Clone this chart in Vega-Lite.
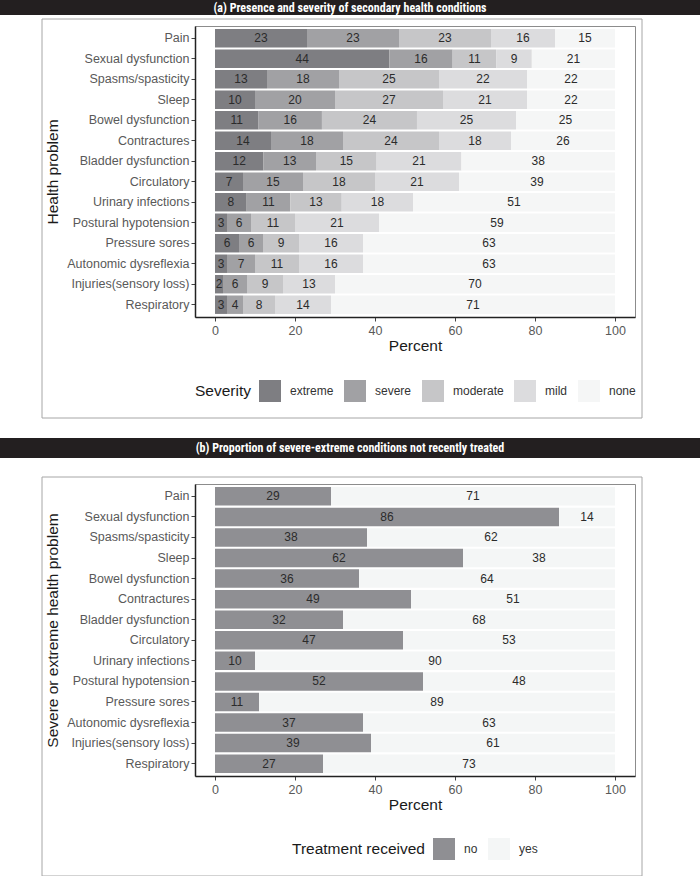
{
  "$schema": "https://vega.github.io/schema/vega-lite/v6.json",
  "padding": 0,
  "background": "white",
  "resolve": {"scale": {"color": "independent", "fill": "independent"}, "legend": {"color": "independent", "fill": "independent"}},
  "config": {
    "font": "Liberation Sans",
    "view": {"stroke": "#8c8c8c", "strokeWidth": 1},
    "axis": {
      "grid": false,
      "labelFont": "Liberation Sans",
      "labelFontSize": 12.5,
      "labelColor": "#595959",
      "titleFont": "Liberation Sans",
      "titleFontSize": 15.5,
      "titleFontWeight": "normal",
      "titleColor": "#1a1a1a",
      "tickColor": "#444",
      "tickSize": 4,
      "domainColor": "#222",
      "domainWidth": 1.5
    },
    "legend": {
      "orient": "none",
      "direction": "horizontal",
      "titleOrient": "left",
      "titleAnchor": "middle",
      "titleBaseline": "middle",
      "symbolType": "square",
      "symbolSize": 484,
      "symbolStrokeWidth": 0,
      "symbolOpacity": 1,
      "labelFont": "Liberation Sans",
      "labelFontSize": 12,
      "labelColor": "#333",
      "labelOffset": 9,
      "columnPadding": 10,
      "titleFont": "Liberation Sans",
      "titleFontSize": 15.5,
      "titleFontWeight": "normal",
      "titleColor": "#1a1a1a",
      "titlePadding": 8,
      "titleLimit": 300,
      "padding": 0
    }
  },
  "datasets": {
    "titles": [
      {"panel": "a", "label": "(a) Presence and severity of secondary health conditions"},
      {"panel": "b", "label": "(b) Proportion of severe-extreme conditions not recently treated"}
    ],
    "frame": [{"v": 0}, {"v": 1}],
    "sev": [
      {"problem": "Pain", "severity": "extreme", "pct": 23},
      {"problem": "Pain", "severity": "severe", "pct": 23},
      {"problem": "Pain", "severity": "moderate", "pct": 23},
      {"problem": "Pain", "severity": "mild", "pct": 16},
      {"problem": "Pain", "severity": "none", "pct": 15},
      {"problem": "Sexual dysfunction", "severity": "extreme", "pct": 44},
      {"problem": "Sexual dysfunction", "severity": "severe", "pct": 16},
      {"problem": "Sexual dysfunction", "severity": "moderate", "pct": 11},
      {"problem": "Sexual dysfunction", "severity": "mild", "pct": 9},
      {"problem": "Sexual dysfunction", "severity": "none", "pct": 21},
      {"problem": "Spasms/spasticity", "severity": "extreme", "pct": 13},
      {"problem": "Spasms/spasticity", "severity": "severe", "pct": 18},
      {"problem": "Spasms/spasticity", "severity": "moderate", "pct": 25},
      {"problem": "Spasms/spasticity", "severity": "mild", "pct": 22},
      {"problem": "Spasms/spasticity", "severity": "none", "pct": 22},
      {"problem": "Sleep", "severity": "extreme", "pct": 10},
      {"problem": "Sleep", "severity": "severe", "pct": 20},
      {"problem": "Sleep", "severity": "moderate", "pct": 27},
      {"problem": "Sleep", "severity": "mild", "pct": 21},
      {"problem": "Sleep", "severity": "none", "pct": 22},
      {"problem": "Bowel dysfunction", "severity": "extreme", "pct": 11},
      {"problem": "Bowel dysfunction", "severity": "severe", "pct": 16},
      {"problem": "Bowel dysfunction", "severity": "moderate", "pct": 24},
      {"problem": "Bowel dysfunction", "severity": "mild", "pct": 25},
      {"problem": "Bowel dysfunction", "severity": "none", "pct": 25},
      {"problem": "Contractures", "severity": "extreme", "pct": 14},
      {"problem": "Contractures", "severity": "severe", "pct": 18},
      {"problem": "Contractures", "severity": "moderate", "pct": 24},
      {"problem": "Contractures", "severity": "mild", "pct": 18},
      {"problem": "Contractures", "severity": "none", "pct": 26},
      {"problem": "Bladder dysfunction", "severity": "extreme", "pct": 12},
      {"problem": "Bladder dysfunction", "severity": "severe", "pct": 13},
      {"problem": "Bladder dysfunction", "severity": "moderate", "pct": 15},
      {"problem": "Bladder dysfunction", "severity": "mild", "pct": 21},
      {"problem": "Bladder dysfunction", "severity": "none", "pct": 38},
      {"problem": "Circulatory", "severity": "extreme", "pct": 7},
      {"problem": "Circulatory", "severity": "severe", "pct": 15},
      {"problem": "Circulatory", "severity": "moderate", "pct": 18},
      {"problem": "Circulatory", "severity": "mild", "pct": 21},
      {"problem": "Circulatory", "severity": "none", "pct": 39},
      {"problem": "Urinary infections", "severity": "extreme", "pct": 8},
      {"problem": "Urinary infections", "severity": "severe", "pct": 11},
      {"problem": "Urinary infections", "severity": "moderate", "pct": 13},
      {"problem": "Urinary infections", "severity": "mild", "pct": 18},
      {"problem": "Urinary infections", "severity": "none", "pct": 51},
      {"problem": "Postural hypotension", "severity": "extreme", "pct": 3},
      {"problem": "Postural hypotension", "severity": "severe", "pct": 6},
      {"problem": "Postural hypotension", "severity": "moderate", "pct": 11},
      {"problem": "Postural hypotension", "severity": "mild", "pct": 21},
      {"problem": "Postural hypotension", "severity": "none", "pct": 59},
      {"problem": "Pressure sores", "severity": "extreme", "pct": 6},
      {"problem": "Pressure sores", "severity": "severe", "pct": 6},
      {"problem": "Pressure sores", "severity": "moderate", "pct": 9},
      {"problem": "Pressure sores", "severity": "mild", "pct": 16},
      {"problem": "Pressure sores", "severity": "none", "pct": 63},
      {"problem": "Autonomic dysreflexia", "severity": "extreme", "pct": 3},
      {"problem": "Autonomic dysreflexia", "severity": "severe", "pct": 7},
      {"problem": "Autonomic dysreflexia", "severity": "moderate", "pct": 11},
      {"problem": "Autonomic dysreflexia", "severity": "mild", "pct": 16},
      {"problem": "Autonomic dysreflexia", "severity": "none", "pct": 63},
      {"problem": "Injuries(sensory loss)", "severity": "extreme", "pct": 2},
      {"problem": "Injuries(sensory loss)", "severity": "severe", "pct": 6},
      {"problem": "Injuries(sensory loss)", "severity": "moderate", "pct": 9},
      {"problem": "Injuries(sensory loss)", "severity": "mild", "pct": 13},
      {"problem": "Injuries(sensory loss)", "severity": "none", "pct": 70},
      {"problem": "Respiratory", "severity": "extreme", "pct": 3},
      {"problem": "Respiratory", "severity": "severe", "pct": 4},
      {"problem": "Respiratory", "severity": "moderate", "pct": 8},
      {"problem": "Respiratory", "severity": "mild", "pct": 14},
      {"problem": "Respiratory", "severity": "none", "pct": 71}
    ],
    "trt": [
      {"problem": "Pain", "treated": "no", "pct": 29},
      {"problem": "Pain", "treated": "yes", "pct": 71},
      {"problem": "Sexual dysfunction", "treated": "no", "pct": 86},
      {"problem": "Sexual dysfunction", "treated": "yes", "pct": 14},
      {"problem": "Spasms/spasticity", "treated": "no", "pct": 38},
      {"problem": "Spasms/spasticity", "treated": "yes", "pct": 62},
      {"problem": "Sleep", "treated": "no", "pct": 62},
      {"problem": "Sleep", "treated": "yes", "pct": 38},
      {"problem": "Bowel dysfunction", "treated": "no", "pct": 36},
      {"problem": "Bowel dysfunction", "treated": "yes", "pct": 64},
      {"problem": "Contractures", "treated": "no", "pct": 49},
      {"problem": "Contractures", "treated": "yes", "pct": 51},
      {"problem": "Bladder dysfunction", "treated": "no", "pct": 32},
      {"problem": "Bladder dysfunction", "treated": "yes", "pct": 68},
      {"problem": "Circulatory", "treated": "no", "pct": 47},
      {"problem": "Circulatory", "treated": "yes", "pct": 53},
      {"problem": "Urinary infections", "treated": "no", "pct": 10},
      {"problem": "Urinary infections", "treated": "yes", "pct": 90},
      {"problem": "Postural hypotension", "treated": "no", "pct": 52},
      {"problem": "Postural hypotension", "treated": "yes", "pct": 48},
      {"problem": "Pressure sores", "treated": "no", "pct": 11},
      {"problem": "Pressure sores", "treated": "yes", "pct": 89},
      {"problem": "Autonomic dysreflexia", "treated": "no", "pct": 37},
      {"problem": "Autonomic dysreflexia", "treated": "yes", "pct": 63},
      {"problem": "Injuries(sensory loss)", "treated": "no", "pct": 39},
      {"problem": "Injuries(sensory loss)", "treated": "yes", "pct": 61},
      {"problem": "Respiratory", "treated": "no", "pct": 27},
      {"problem": "Respiratory", "treated": "yes", "pct": 73}
    ]
  },
  "spacing": 19,
  "vconcat": [
    {
      "spacing": 4,
      "resolve": {"scale": {"color": "independent", "fill": "independent"}, "legend": {"color": "independent", "fill": "independent"}},
      "vconcat": [
        {
          "width": 700,
          "height": 15,
          "view": {"fill": "#231f20", "stroke": null},
          "data": {"name": "titles"},
          "transform": [{"filter": "datum.panel === 'a'"}],
          "mark": {"type": "text", "color": "white", "font": "Liberation Sans Narrow, Roboto Condensed, Roboto", "fontWeight": "bold", "fontSize": 12, "baseline": "middle", "align": "center"},
          "encoding": {"text": {"field": "label", "type": "nominal"}}
        },
        {
          "spacing": 44,
          "hconcat": [
            {
              "width": 1,
              "height": 1,
              "view": {"stroke": null},
              "data": {"name": "frame"},
              "mark": {"type": "point", "size": 0, "strokeWidth": 0, "opacity": 0},
              "encoding": {
                "fill": {
                  "field": "v",
                  "type": "quantitative",
                  "scale": {"range": ["rgba(255,255,255,0)", "rgba(255,255,255,0)"]},
                  "legend": {"type": "gradient", "title": null, "labelExpr": "''", "labelFontSize": 1, "labelOffset": 0, "labelOpacity": 0, "direction": "horizontal", "gradientLength": 600, "gradientThickness": 399, "gradientStrokeColor": "#a6a6a6", "gradientStrokeWidth": 1, "legendX": 42, "legendY": -7}
                }
              }
            },
            {
              "width": 440,
              "height": 291,
              "data": {"name": "sev"},
              "transform": [
                {"calculate": "indexof(['extreme','severe','moderate','mild','none'], datum.severity)", "as": "ord"},
                {"stack": "pct", "groupby": ["problem"], "sort": [{"field": "ord", "order": "ascending"}], "offset": "normalize", "as": ["s0", "s1"]},
                {"calculate": "(datum.s0 + datum.s1) / 2", "as": "mid"}
              ],
              "encoding": {
                "y": {
                  "field": "problem",
                  "type": "nominal",
                  "sort": ["Pain", "Sexual dysfunction", "Spasms/spasticity", "Sleep", "Bowel dysfunction", "Contractures", "Bladder dysfunction", "Circulatory", "Urinary infections", "Postural hypotension", "Pressure sores", "Autonomic dysreflexia", "Injuries(sensory loss)", "Respiratory"],
                  "scale": {"paddingInner": 0.1, "paddingOuter": 0.15},
                  "axis": {"title": "Health problem", "labelPadding": 2, "titlePadding": 6}
                }
              },
              "layer": [
                {
                  "mark": {"type": "bar"},
                  "encoding": {
                    "x": {
                      "field": "s0",
                      "type": "quantitative",
                      "scale": {"domain": [-0.05, 1.05], "nice": false, "zero": false},
                      "axis": {"title": "Percent", "values": [0, 0.2, 0.4, 0.6, 0.8, 1], "labelExpr": "format(datum.value * 100, 'd')", "labelPadding": 3, "titlePadding": 2}
                    },
                    "x2": {"field": "s1"},
                    "color": {
                      "field": "severity",
                      "type": "nominal",
                      "scale": {"domain": ["extreme", "severe", "moderate", "mild", "none"], "range": ["#7e7e82", "#a1a1a4", "#c6c6c8", "#dcdcde", "#f5f6f6"]},
                      "legend": {"title": "Severity", "legendX": 195, "legendY": 354}
                    }
                  }
                },
                {
                  "mark": {"type": "text", "fontSize": 12, "color": "#2b2b2b", "font": "Liberation Sans", "baseline": "middle"},
                  "encoding": {
                    "x": {"field": "mid", "type": "quantitative"},
                    "text": {"field": "pct", "type": "quantitative"}
                  }
                }
              ]
            }
          ]
        }
      ]
    },
    {
      "spacing": 19,
      "resolve": {"scale": {"color": "independent", "fill": "independent"}, "legend": {"color": "independent", "fill": "independent"}},
      "vconcat": [
        {
          "width": 700,
          "height": 20,
          "view": {"fill": "#231f20", "stroke": null},
          "data": {"name": "titles"},
          "transform": [{"filter": "datum.panel === 'b'"}],
          "mark": {"type": "text", "color": "white", "font": "Liberation Sans Narrow, Roboto Condensed, Roboto", "fontWeight": "bold", "fontSize": 12, "baseline": "middle", "align": "center"},
          "encoding": {"text": {"field": "label", "type": "nominal"}}
        },
        {
          "spacing": 44,
          "hconcat": [
            {
              "width": 1,
              "height": 1,
              "view": {"stroke": null},
              "data": {"name": "frame"},
              "mark": {"type": "point", "size": 0, "strokeWidth": 0, "opacity": 0},
              "encoding": {
                "fill": {
                  "field": "v",
                  "type": "quantitative",
                  "scale": {"range": ["rgba(255,255,255,0)", "rgba(255,255,255,0)"]},
                  "legend": {"type": "gradient", "title": null, "labelExpr": "''", "labelFontSize": 1, "labelOffset": 0, "labelOpacity": 0, "direction": "horizontal", "gradientLength": 600, "gradientThickness": 399, "gradientStrokeColor": "#a6a6a6", "gradientStrokeWidth": 1, "legendX": 42, "legendY": -7}
                }
              }
            },
            {
              "width": 440,
              "height": 292,
              "data": {"name": "trt"},
              "transform": [
                {"calculate": "indexof(['no','yes'], datum.treated)", "as": "ord"},
                {"stack": "pct", "groupby": ["problem"], "sort": [{"field": "ord", "order": "ascending"}], "offset": "normalize", "as": ["s0", "s1"]},
                {"calculate": "(datum.s0 + datum.s1) / 2", "as": "mid"}
              ],
              "encoding": {
                "y": {
                  "field": "problem",
                  "type": "nominal",
                  "sort": ["Pain", "Sexual dysfunction", "Spasms/spasticity", "Sleep", "Bowel dysfunction", "Contractures", "Bladder dysfunction", "Circulatory", "Urinary infections", "Postural hypotension", "Pressure sores", "Autonomic dysreflexia", "Injuries(sensory loss)", "Respiratory"],
                  "scale": {"paddingInner": 0.1, "paddingOuter": 0.15},
                  "axis": {"title": "Severe or extreme health problem", "labelPadding": 2, "titlePadding": 6}
                }
              },
              "layer": [
                {
                  "mark": {"type": "bar"},
                  "encoding": {
                    "x": {
                      "field": "s0",
                      "type": "quantitative",
                      "scale": {"domain": [-0.05, 1.05], "nice": false, "zero": false},
                      "axis": {"title": "Percent", "values": [0, 0.2, 0.4, 0.6, 0.8, 1], "labelExpr": "format(datum.value * 100, 'd')", "labelPadding": 3, "titlePadding": 2}
                    },
                    "x2": {"field": "s1"},
                    "color": {
                      "field": "treated",
                      "type": "nominal",
                      "scale": {"domain": ["no", "yes"], "range": ["#8f8f93", "#f4f6f6"]},
                      "legend": {"title": "Treatment received", "legendX": 292, "legendY": 354}
                    }
                  }
                },
                {
                  "mark": {"type": "text", "fontSize": 12, "color": "#2b2b2b", "font": "Liberation Sans", "baseline": "middle"},
                  "encoding": {
                    "x": {"field": "mid", "type": "quantitative"},
                    "text": {"field": "pct", "type": "quantitative"}
                  }
                }
              ]
            }
          ]
        }
      ]
    }
  ]
}
